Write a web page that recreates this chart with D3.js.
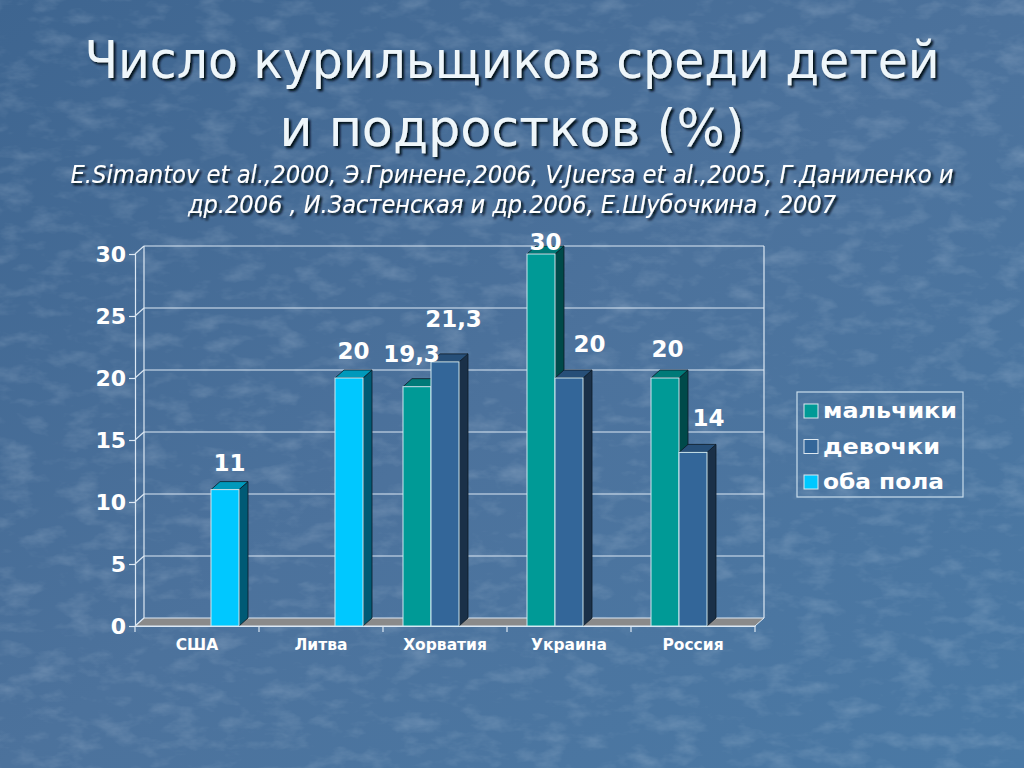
<!DOCTYPE html>
<html>
<head>
<meta charset="utf-8">
<script src="https://cdn.jsdelivr.net/npm/d3@7"></script>
<style>
  html, body { margin: 0; padding: 0; background: #4a6f96; }
  svg { display: block; }
</style>
</head>
<body>
<div id="chart"></div>
<script>
// chart data
var countries = ['США', 'Литва', 'Хорватия', 'Украина', 'Россия'];
var seriesNames = ['мальчики', 'девочки', 'оба пола'];
var boys = [null, null, 19.3, 30, 20];
var girls = [null, null, 21.3, 20, 14];
var both = [11, 20, null, null, null];
var yTicks = [0, 5, 10, 15, 20, 25, 30];

var titleLines = ['Число курильщиков среди детей', 'и подростков (%)'];
var sourceLines = [
  'E.Simantov et al.,2000,  Э.Гринене,2006, V.Juersa et al.,2005, Г.Даниленко и',
  'др.2006 , И.Застенская и др.2006, Е.Шубочкина , 2007'
];

var W = 1024, H = 768;
var depthX = 9, depthY = 8;

var colors = {
  'мальчики': { front: '#009a96', top: '#007a78', side: '#004a4a' },
  'девочки': { front: '#336699', top: '#274f78', side: '#1a3048' },
  'оба пола': { front: '#00c8ff', top: '#0099bb', side: '#005a75' }
};

// label nudges so overlapping labels sit like in the slide
var labelNudge = {
  'Хорватия|мальчики': [-10, -6],
  'Хорватия|девочки': [4, -16],
  'Украина|мальчики': [0, 15],
  'Украина|девочки': [16, -7],
  'Россия|мальчики': [-2, -2],
  'Россия|девочки': [11, -7]
};

var svg = d3.select('#chart').append('svg')
  .attr('width', W)
  .attr('height', H);

var defs = svg.append('defs');

var bg = defs.append('linearGradient')
  .attr('id', 'bg-grad')
  .attr('x1', 0).attr('y1', 0).attr('x2', 1).attr('y2', 1);
bg.append('stop').attr('offset', '0%').attr('stop-color', '#3e6590');
bg.append('stop').attr('offset', '50%').attr('stop-color', '#4c729c');
bg.append('stop').attr('offset', '100%').attr('stop-color', '#4a79a5');

var tex = defs.append('filter').attr('id', 'texture')
  .attr('x', 0).attr('y', 0).attr('width', 1).attr('height', 1);
tex.append('feTurbulence')
  .attr('type', 'fractalNoise')
  .attr('baseFrequency', '0.03 0.06')
  .attr('numOctaves', 4)
  .attr('seed', 11)
  .attr('result', 'noise');
tex.append('feColorMatrix')
  .attr('in', 'noise')
  .attr('type', 'matrix')
  .attr('values', '0 0 0 0 0.8  0 0 0 0 0.87  0 0 0 0 0.95  0 0 0 2.0 -0.95');

var shadow = defs.append('filter').attr('id', 'txt-shadow')
  .attr('x', '-5%').attr('y', '-20%').attr('width', '110%').attr('height', '140%');
shadow.append('feDropShadow')
  .attr('dx', 2.2).attr('dy', 2.2)
  .attr('stdDeviation', 0.9)
  .attr('flood-color', '#050d18')
  .attr('flood-opacity', 1);

// background
svg.append('rect')
  .attr('width', W).attr('height', H)
  .attr('fill', 'url(#bg-grad)');
svg.append('rect')
  .attr('width', W).attr('height', H)
  .attr('filter', 'url(#texture)')
  .attr('opacity', 0.2);

// title
svg.append('g')
  .attr('filter', 'url(#txt-shadow)')
  .selectAll('text')
  .data(titleLines)
  .enter()
  .append('text')
  .attr('x', 512)
  .attr('y', function(d, i) { return 78 + i * 68; })
  .attr('text-anchor', 'middle')
  .attr('font-family', '"DejaVu Sans", Verdana, sans-serif')
  .attr('font-size', 52)
  .attr('fill', '#eef6fa')
  .attr('textLength', function(d, i) { return i === 0 ? 855 : 465; })
  .attr('lengthAdjust', 'spacingAndGlyphs')
  .text(function(d) { return d; });

// sources
svg.append('g')
  .attr('filter', 'url(#txt-shadow)')
  .selectAll('text')
  .data(sourceLines)
  .enter()
  .append('text')
  .attr('x', 512)
  .attr('y', function(d, i) { return 183 + i * 30; })
  .attr('text-anchor', 'middle')
  .attr('font-family', '"DejaVu Sans Condensed", "DejaVu Sans", sans-serif')
  .attr('font-style', 'italic')
  .attr('font-size', 25)
  .attr('fill', '#ffffff')
  .attr('textLength', function(d, i) { return i === 0 ? 883 : 648; })
  .attr('lengthAdjust', 'spacingAndGlyphs')
  .text(function(d) { return d; });

// scales
var x0 = d3.scaleBand().domain(countries).range([135, 755]);
var x1 = d3.scaleBand().domain(seriesNames).range([20, x0.bandwidth() - 20]);
var y = d3.scaleLinear().domain([0, 30]).range([626, 254]);

var plot = svg.append('g');
var lineCol = '#dce8f4';

// floor
plot.append('path')
  .attr('d', 'M' + x0.range()[0] + ',' + y(0) +
    'L' + x0.range()[1] + ',' + y(0) +
    'L' + (x0.range()[1] + depthX) + ',' + (y(0) - depthY) +
    'L' + (x0.range()[0] + depthX) + ',' + (y(0) - depthY) + 'Z')
  .attr('fill', '#8a8a8a')
  .attr('stroke', lineCol)
  .attr('stroke-width', 1);

// back wall grid lines
plot.append('g')
  .selectAll('line')
  .data(yTicks.filter(function(t) { return t > 0; }))
  .enter()
  .append('line')
  .attr('x1', x0.range()[0] + depthX)
  .attr('x2', x0.range()[1] + depthX)
  .attr('y1', function(d) { return y(d) - depthY; })
  .attr('y2', function(d) { return y(d) - depthY; })
  .attr('stroke', lineCol)
  .attr('stroke-width', 1.2);

// side wall diagonals
plot.append('g')
  .selectAll('line')
  .data(yTicks)
  .enter()
  .append('line')
  .attr('x1', x0.range()[0])
  .attr('x2', x0.range()[0] + depthX)
  .attr('y1', function(d) { return y(d); })
  .attr('y2', function(d) { return y(d) - depthY; })
  .attr('stroke', lineCol)
  .attr('stroke-width', 1.2);

// wall edges
plot.append('line')
  .attr('x1', x0.range()[0] + depthX).attr('x2', x0.range()[0] + depthX)
  .attr('y1', y(30) - depthY).attr('y2', y(0) - depthY)
  .attr('stroke', lineCol).attr('stroke-width', 1.2);
plot.append('line')
  .attr('x1', x0.range()[1] + depthX).attr('x2', x0.range()[1] + depthX)
  .attr('y1', y(30) - depthY).attr('y2', y(0) - depthY)
  .attr('stroke', lineCol).attr('stroke-width', 1.2);

// y axis (front edge)
var yAxis = d3.axisLeft(y).tickValues(yTicks).tickSize(6).tickPadding(3);
var yg = plot.append('g')
  .attr('transform', 'translate(' + x0.range()[0] + ',0)')
  .call(yAxis);
yg.select('.domain').attr('stroke', lineCol).attr('stroke-width', 1.2);
yg.selectAll('.tick line').attr('stroke', lineCol).attr('stroke-width', 1.2);
yg.selectAll('.tick text')
  .attr('fill', '#ffffff')
  .attr('font-family', '"DejaVu Sans", Verdana, sans-serif')
  .attr('font-weight', 'bold')
  .attr('font-size', 22)
  .attr('dy', '0.36em');

// x axis
var xAxis = d3.axisBottom(x0).tickSize(0).tickPadding(13);
var xg = plot.append('g')
  .attr('transform', 'translate(0,' + y(0) + ')')
  .call(xAxis);
xg.select('.domain').attr('stroke', lineCol).attr('stroke-width', 1.2);
xg.selectAll('.tick text')
  .attr('fill', '#ffffff')
  .attr('font-family', '"DejaVu Sans", Verdana, sans-serif')
  .attr('font-weight', 'bold')
  .attr('font-size', 15.5);
// category separators
xg.append('g')
  .selectAll('line')
  .data(x0.domain())
  .enter()
  .append('line')
  .attr('x1', function(d) { return x0(d); })
  .attr('x2', function(d) { return x0(d); })
  .attr('y1', 0)
  .attr('y2', 6)
  .attr('stroke', lineCol)
  .attr('stroke-width', 1.2);
xg.append('line')
  .attr('x1', x0.range()[1]).attr('x2', x0.range()[1])
  .attr('y1', 0).attr('y2', 6)
  .attr('stroke', lineCol).attr('stroke-width', 1.2);

// bar records
var bars = [];
countries.forEach(function(c, i) {
  [boys, girls, both].forEach(function(arr, k) {
    if (arr[i] === null) return;
    bars.push({ country: c, series: seriesNames[k], value: arr[i] });
  });
});

var barG = plot.append('g')
  .selectAll('g')
  .data(bars)
  .enter()
  .append('g');

var bw = x1.bandwidth();

barG.append('path')   // side
  .attr('d', function(d) {
    var xr = x0(d.country) + x1(d.series) + bw;
    return 'M' + xr + ',' + y(0) +
      'L' + xr + ',' + y(d.value) +
      'L' + (xr + depthX) + ',' + (y(d.value) - depthY) +
      'L' + (xr + depthX) + ',' + (y(0) - depthY) + 'Z';
  })
  .attr('fill', function(d) { return colors[d.series].side; })
  .attr('stroke', '#0c1a26')
  .attr('stroke-width', 0.8);

barG.append('path')   // top
  .attr('d', function(d) {
    var xl = x0(d.country) + x1(d.series);
    var yt = y(d.value);
    return 'M' + xl + ',' + yt +
      'L' + (xl + bw) + ',' + yt +
      'L' + (xl + bw + depthX) + ',' + (yt - depthY) +
      'L' + (xl + depthX) + ',' + (yt - depthY) + 'Z';
  })
  .attr('fill', function(d) { return colors[d.series].top; })
  .attr('stroke', '#0c1a26')
  .attr('stroke-width', 0.8);

barG.append('rect')   // front
  .attr('x', function(d) { return x0(d.country) + x1(d.series); })
  .attr('y', function(d) { return y(d.value); })
  .attr('width', bw)
  .attr('height', function(d) { return y(0) - y(d.value); })
  .attr('fill', function(d) { return colors[d.series].front; })
  .attr('stroke', '#cfe8f0')
  .attr('stroke-width', 1);

// value labels
var fmt = function(v) { return String(v).replace('.', ','); };
plot.append('g')
  .selectAll('text')
  .data(bars)
  .enter()
  .append('text')
  .attr('x', function(d) {
    var n = labelNudge[d.country + '|' + d.series] || [0, 0];
    return x0(d.country) + x1(d.series) + (bw + depthX) / 2 + n[0];
  })
  .attr('y', function(d) {
    var n = labelNudge[d.country + '|' + d.series] || [0, 0];
    return y(d.value) - depthY - 11 + n[1];
  })
  .attr('text-anchor', 'middle')
  .attr('fill', '#ffffff')
  .attr('font-family', '"DejaVu Sans", Verdana, sans-serif')
  .attr('font-weight', 'bold')
  .attr('font-size', 23)
  .text(function(d) { return fmt(d.value); });

// legend
var legend = svg.append('g').attr('transform', 'translate(797,392)');
legend.append('rect')
  .attr('width', 166)
  .attr('height', 105)
  .attr('fill', 'none')
  .attr('stroke', '#c8dcec')
  .attr('stroke-width', 1.2);
var li = legend.selectAll('g.item')
  .data(seriesNames)
  .enter()
  .append('g')
  .attr('class', 'item')
  .attr('transform', function(d, i) { return 'translate(7,' + (19 + i * 35.5) + ')'; });
li.append('rect')
  .attr('x', 0).attr('y', -7)
  .attr('width', 14).attr('height', 14)
  .attr('fill', function(d) { return colors[d].front; })
  .attr('stroke', '#dde8f0')
  .attr('stroke-width', 1);
li.append('text')
  .attr('x', 19)
  .attr('y', 0)
  .attr('dy', '0.35em')
  .attr('fill', '#ffffff')
  .attr('font-family', '"DejaVu Sans", Verdana, sans-serif')
  .attr('font-weight', 'bold')
  .attr('font-size', 21)
  .attr('textLength', function(d, i) { return [134, 117, 121][i]; })
  .attr('lengthAdjust', 'spacingAndGlyphs')
  .text(function(d) { return d; });
</script>
</body>
</html>
